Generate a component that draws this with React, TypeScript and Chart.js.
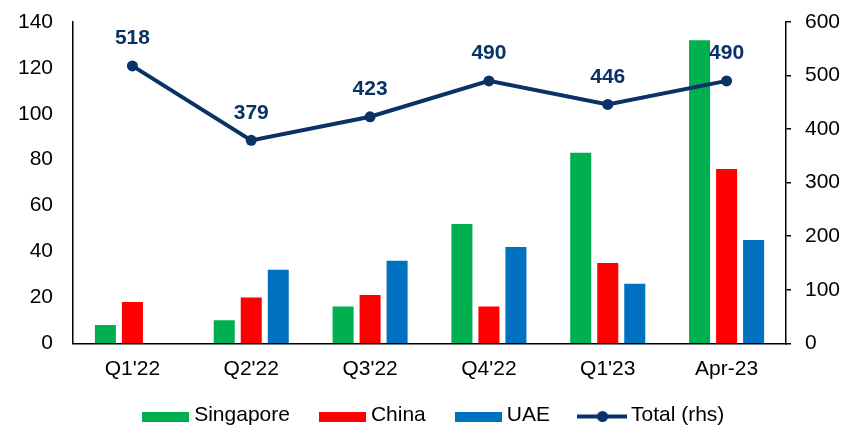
import React, { useEffect, useRef } from "react";
import { Chart, registerables } from "chart.js";

Chart.register(...registerables);

const categories = ["Q1'22", "Q2'22", "Q3'22", "Q4'22", "Q1'23", "Apr-23"];
const singapore = [8, 10, 16, 52, 83, 132];
const china = [18, 20, 21, 16, 35, 76];
const uae = [null, 32, 36, 42, 26, 45];
const total = [518, 379, 423, 490, 446, 490];

const leftMin = 0;
const leftMax = 140;
const leftStep = 20;
const rightMin = 0;
const rightMax = 600;
const rightStep = 100;

const GREEN = "#00B050";
const RED = "#FF0000";
const BLUE = "#0070C0";
const NAVY = "#0A3266";
const FONT = "'Liberation Sans', Arial, sans-serif";

function boxImage(color: string) {
  const c = document.createElement("canvas");
  c.width = 47;
  c.height = 20;
  const ctx = c.getContext("2d")!;
  ctx.fillStyle = color;
  ctx.fillRect(0, 7, 47, 10);
  return c;
}

function lineImage(color: string) {
  const c = document.createElement("canvas");
  c.width = 50;
  c.height = 20;
  const ctx = c.getContext("2d")!;
  ctx.strokeStyle = color;
  ctx.lineWidth = 4;
  ctx.beginPath();
  ctx.moveTo(0, 11.5);
  ctx.lineTo(50, 11.5);
  ctx.stroke();
  ctx.fillStyle = color;
  ctx.beginPath();
  ctx.arc(25, 11.5, 5.5, 0, Math.PI * 2);
  ctx.fill();
  return c;
}

const legendShift = {
  id: "legendShift",
  afterLayout(chart: any) {
    const lg = chart.legend;
    if (!lg) return;
    const dx = 15.5;
    const top = 370;
    lg.left += dx;
    lg.right += dx;
    lg.top = top;
    lg.bottom = chart.height;
  },
};

const totalLabels = {
  id: "totalLabels",
  afterDatasetsDraw(chart: any) {
    const meta = chart.getDatasetMeta(3);
    const ctx = chart.ctx;
    ctx.save();
    ctx.font = `bold 21px ${FONT}`;
    ctx.fillStyle = NAVY;
    ctx.textAlign = "center";
    ctx.textBaseline = "alphabetic";
    meta.data.forEach((pt: any, i: number) => {
      ctx.fillText(String(total[i]), pt.x, pt.y - 21.5);
    });
    ctx.restore();
  },
};

const noScalePad = (s: any) => {
  s.paddingTop = 0;
  s.paddingBottom = 0;
};

export default function App() {
  const ref = useRef<HTMLCanvasElement | null>(null);

  useEffect(() => {
    if (!ref.current) return;
    const images = [boxImage(GREEN), boxImage(RED), boxImage(BLUE), lineImage(NAVY)];
    const chart = new Chart(ref.current, {
      type: "bar",
      data: {
        labels: categories,
        datasets: [
          {
            type: "bar",
            label: "Singapore",
            data: singapore,
            backgroundColor: GREEN,
            borderWidth: 0,
            yAxisID: "y",
            order: 1,
            categoryPercentage: 0.682,
            barPercentage: 0.778,
          },
          {
            type: "bar",
            label: "China",
            data: china,
            backgroundColor: RED,
            borderWidth: 0,
            yAxisID: "y",
            order: 1,
            categoryPercentage: 0.682,
            barPercentage: 0.778,
          },
          {
            type: "bar",
            label: "UAE",
            data: uae as any,
            backgroundColor: BLUE,
            borderWidth: 0,
            yAxisID: "y",
            order: 1,
            categoryPercentage: 0.682,
            barPercentage: 0.778,
          },
          {
            type: "line",
            label: "Total (rhs)",
            data: total,
            borderColor: NAVY,
            backgroundColor: NAVY,
            borderWidth: 4,
            pointRadius: 5.5,
            pointBackgroundColor: NAVY,
            pointBorderWidth: 0,
            tension: 0,
            yAxisID: "y1",
            order: 0,
          } as any,
        ],
      },
      options: {
        animation: false,
        responsive: true,
        maintainAspectRatio: false,
        layout: { padding: { top: 22, left: 0, right: 0, bottom: 0 } },
        plugins: {
          tooltip: { enabled: false },
          legend: {
            position: "bottom",
            maxHeight: 40,
            labels: {
              usePointStyle: true,
              pointStyleWidth: 36,
              padding: 34.5,
              color: "#000",
              font: { family: FONT, size: 21 },
              sort: (a: any, b: any) => a.datasetIndex - b.datasetIndex,
              generateLabels: (c: any) => {
                const items = (Chart.defaults.plugins.legend.labels as any).generateLabels(c);
                return items.map((it: any) => ({ ...it, pointStyle: images[it.datasetIndex], lineWidth: 0 }));
              },
            },
          } as any,
        },
        scales: {
          x: {
            grid: { display: false, drawTicks: false },
            border: { display: true, color: "#000", width: 1.5 },
            ticks: { color: "#000", font: { family: FONT, size: 21 }, padding: 13 },
            afterFit: (s: any) => {
              s.height = 41.7;
            },
          },
          y: {
            position: "left",
            min: leftMin,
            max: leftMax,
            ticks: { stepSize: leftStep, color: "#000", font: { family: FONT, size: 21 }, padding: 20 },
            grid: { display: false, drawTicks: false },
            border: { display: true, color: "#000", width: 1.5 },
            afterFit: (s: any) => {
              s.width = 73;
              noScalePad(s);
            },
          },
          y1: {
            position: "right",
            min: rightMin,
            max: rightMax,
            ticks: { stepSize: rightStep, color: "#000", font: { family: FONT, size: 21 }, padding: 14 },
            grid: { display: true, drawOnChartArea: false, drawTicks: true, tickLength: 5, color: "#000", lineWidth: 1.5 },
            border: { display: true, color: "#000", width: 1.5 },
            afterFit: (s: any) => {
              s.width = 55;
              noScalePad(s);
            },
          },
        },
      },
      plugins: [legendShift, totalLabels],
    });
    return () => chart.destroy();
  }, []);

  return (
    <div style={{ position: "fixed", left: 0, top: 0, width: 841, height: 425, background: "#fff" }}>
      <canvas ref={ref} />
    </div>
  );
}
